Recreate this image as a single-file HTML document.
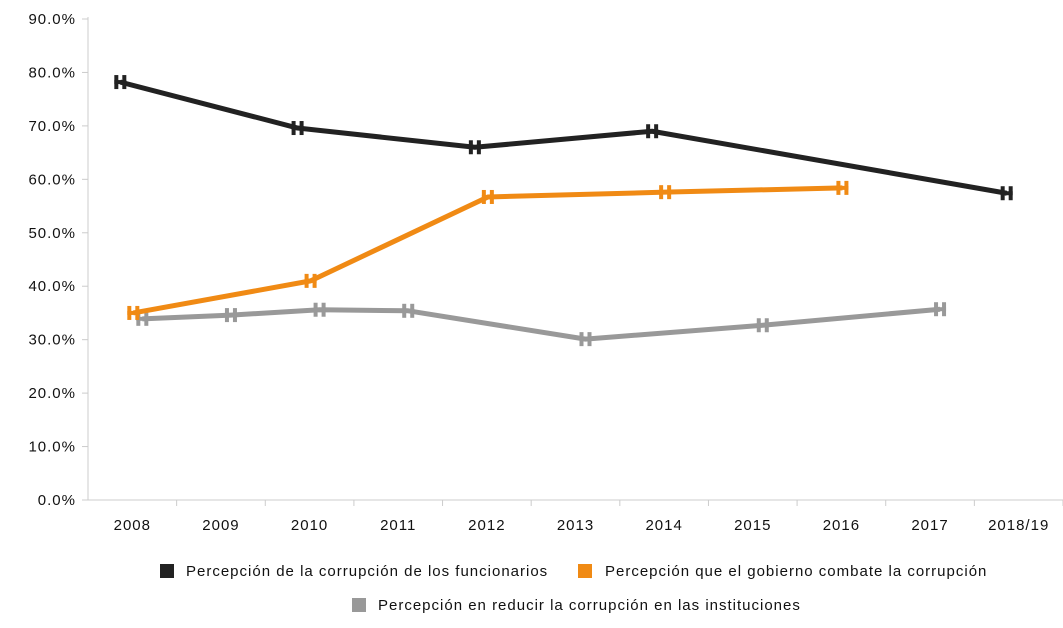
<!DOCTYPE html>
<html><head><meta charset="utf-8"><style>
body{margin:0;background:#fff;font-family:"Liberation Sans",sans-serif;}
svg text{font-family:"Liberation Sans",sans-serif;font-size:15px;fill:#111;letter-spacing:1px;}
</style></head><body>
<svg width="1063" height="623">
<g id="axes"></g><g id="series"></g>
<g>
<g><rect x="160" y="564" width="14" height="14" fill="#222"/><text x="186" y="576">Percepción de la corrupción de los funcionarios</text></g>
<g><rect x="578" y="564" width="14" height="14" fill="#F08A14"/><text x="605" y="576">Percepción que el gobierno combate la corrupción</text></g>
<g><rect x="352" y="598" width="14" height="14" fill="#999"/><text x="378" y="610">Percepción en reducir la corrupción en las instituciones</text></g>
</g>
</svg>
<script>
const categories=["2008","2009","2010","2011","2012","2013","2014","2015","2016","2017","2018/19"];
const yTicks=[0,10,20,30,40,50,60,70,80,90];
const funcionarios=[78.2,null,69.6,null,66.0,null,69.0,null,null,null,57.4];
const gobierno=[35.0,null,41.0,null,56.7,null,57.6,null,58.4,null,null];
const instituciones=[33.9,34.6,35.6,35.4,null,30.1,null,32.7,null,35.7,null];
const ns="http://www.w3.org/2000/svg";
const x0=88,x1=1063,y0=500,y1=19;
const band=(x1-x0)/categories.length;
const xs=i=>x0+band*(i+0.5);
const ys=v=>y0-(v/90)*(y0-y1);
function mk(t,a,p){const e=document.createElementNS(ns,t);for(const k in a)e.setAttribute(k,a[k]);p.appendChild(e);return e;}
const ax=document.getElementById('axes');
const yl=mk('line',{x1:x0,y1:y1-2,x2:x0,y2:y0,stroke:'#ccc','stroke-width':1},ax);


const xl=mk('line',{x1:x0,y1:y0,x2:x1,y2:y0,stroke:'#ccc','stroke-width':1},ax);


yTicks.forEach(v=>{
 mk('line',{x1:x0-6,y1:ys(v),x2:x0,y2:ys(v),stroke:'#ccc'},ax);
 const t=mk('text',{x:x0-12,y:ys(v)+5,'text-anchor':'end'},ax);t.textContent=v.toFixed(1)+'%';
 
 
});
categories.forEach((c,i)=>{
 mk('line',{x1:x0+band*(i+1),y1:y0,x2:x0+band*(i+1),y2:y0+6,stroke:'#ccc'},ax);
 const t=mk('text',{x:xs(i),y:y0+30,'text-anchor':'middle'},ax);t.textContent=c;
 
 
});
const sg=document.getElementById('series');
function draw(data,color,off,name){
 const g=mk('g',{},sg);
 
 
 const pts=[];data.forEach((v,i)=>{if(v!=null)pts.push([xs(i)+off,ys(v)]);});
 const l=mk('polyline',{points:pts.map(p=>p.join(',')).join(' '),fill:'none',stroke:color,'stroke-width':5,'stroke-linejoin':'round'},g);
 
 
 pts.forEach(p=>{
  const m=mk('g',{},g);
  
  
  mk('rect',{x:p[0]-6,y:p[1]-7,width:4,height:14,fill:color},m);
  mk('rect',{x:p[0]+2,y:p[1]-7,width:4,height:14,fill:color},m);
  mk('rect',{x:p[0]-6,y:p[1]-2,width:12,height:4,fill:color},m);
 });
}
draw(instituciones,'#999',10,'series-instituciones');
draw(gobierno,'#F08A14',1,'series-gobierno');
draw(funcionarios,'#222',-12,'series-funcionarios');
</script>
</body></html>
